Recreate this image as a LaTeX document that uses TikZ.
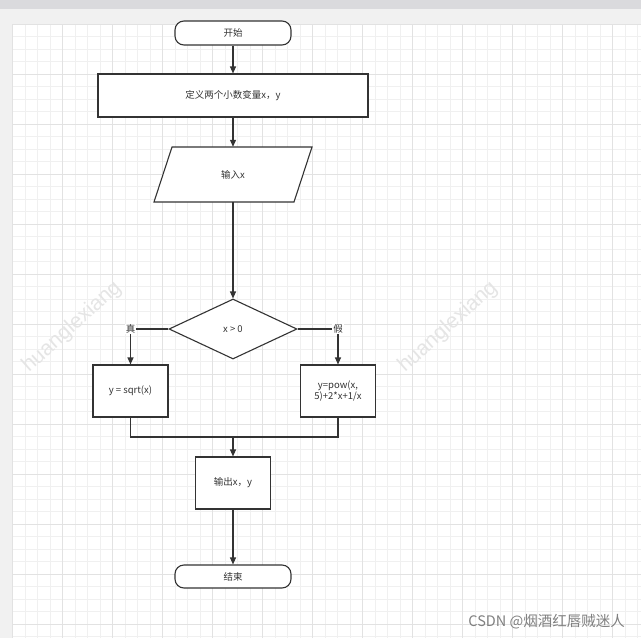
\documentclass[tikz,border=0pt]{standalone}
\usepackage{fontspec}
\setmainfont{Noto Sans CJK SC}
\newfontfamily\wmfont{Liberation Sans}
\usetikzlibrary{shapes.geometric,arrows.meta}
\definecolor{ink}{HTML}{333333}
\definecolor{minorgrid}{HTML}{F0F0F0}
\definecolor{majorgrid}{HTML}{E2E2E2}
\definecolor{pagebg}{HTML}{F1F1F1}
\definecolor{topbar}{HTML}{DADADD}
\begin{document}
\begin{tikzpicture}[x=1pt,y=-1pt,
  box/.style={draw=ink,line width=1.1pt,fill=white,rectangle,inner sep=1pt,align=center,
    font=\fontsize{9.5}{11.7}\selectfont,text=ink},
  term/.style={box,rounded corners=9pt},
  flow/.style={draw=ink,line width=1.1pt,-{Triangle[length=7pt,width=6pt]}},
  plain/.style={draw=ink,line width=1.1pt},
  lbl/.style={fill=white,inner sep=1pt,font=\fontsize{9.5}{11}\selectfont,text=ink},
  watermark/.style={font=\wmfont\fontsize{21}{21}\selectfont,text=black!10,rotate=42}
]
\useasboundingbox (0,0) rectangle (641,638);
% page background
\fill[pagebg] (0,0) rectangle (641,638);
\fill[topbar] (0,0) rectangle (641,9);
\fill[white] (12.5,24.3) rectangle (641,638);
% grid
\foreach \i in {0,...,50} {
  \pgfmathsetmacro{\xx}{12.5+12.5*\i}
  \draw[minorgrid,line width=0.9pt] (\xx,24.3) -- (\xx,638);
}
\foreach \i in {0,...,49} {
  \pgfmathsetmacro{\yy}{24.3+12.5*\i}
  \draw[minorgrid,line width=0.9pt] (12.5,\yy) -- (641,\yy);
}
\foreach \i in {0,...,12} {
  \pgfmathsetmacro{\xx}{12.5+50*\i}
  \draw[majorgrid,line width=0.9pt] (\xx,24.3) -- (\xx,638);
}
\foreach \i in {0,...,12} {
  \pgfmathsetmacro{\yy}{24.3+50*\i}
  \draw[majorgrid,line width=0.9pt] (12.5,\yy) -- (641,\yy);
}
% watermarks
\node[watermark] (wm1) at (72,327) {huanglexiang};
\node[watermark] (wm2) at (448,327) {huanglexiang};

% nodes
\node[term,minimum width=116pt,minimum height=24pt] (start) at (233,33) {开始};
\node[box,minimum width=270pt,minimum height=43pt] (def) at (233,95.5) {定义两个小数变量x，y};
\draw[ink,line width=1.1pt,fill=white] (172,147) -- (312,147) -- (294,202) -- (154,202) -- cycle;
\node[inner sep=0pt,minimum width=1pt,minimum height=55pt,font=\fontsize{9.5}{11}\selectfont,text=ink] (inp) at (233,174.5) {输入x};
\node[diamond,draw=ink,line width=1.1pt,fill=white,inner sep=0pt,minimum width=128pt,minimum height=60pt,
      font=\fontsize{9.5}{11}\selectfont,text=ink] (dia) at (233,329) {x > 0};
\node[box,minimum width=75pt,minimum height=52pt] (yes) at (130.5,391) {y = sqrt(x)};
\node[box,minimum width=75pt,minimum height=52pt] (no) at (338,391) {y=pow(x,\\5)+2*x+1/x};
\coordinate (join) at (233,437);
\node[box,minimum width=75pt,minimum height=52pt] (out) at (233,483) {输出x，y};
\node[term,minimum width=116pt,minimum height=23pt] (end) at (233,576.5) {结束};

% connectors
\draw[flow] (start) -- (def);
\draw[flow] (def) -- (inp);
\draw[flow] (inp) -- (dia);
\draw[flow] (dia.west) -| node[pos=0.5,lbl] {真} (yes.north);
\draw[flow] (dia.east) -| node[pos=0.5,lbl] {假} (no.north);
\draw[plain] (yes.south) |- (join);
\draw[plain] (no.south) |- (join);
\draw[flow] (join) -- (out.north);
\draw[flow] (out) -- (end);

% credit
\node[anchor=east,inner sep=0pt,font=\fontsize{14.5}{14.5}\selectfont,text=black!50] (credit) at (625,622) {CSDN @烟酒红唇贼迷人};
\end{tikzpicture}
\end{document}
